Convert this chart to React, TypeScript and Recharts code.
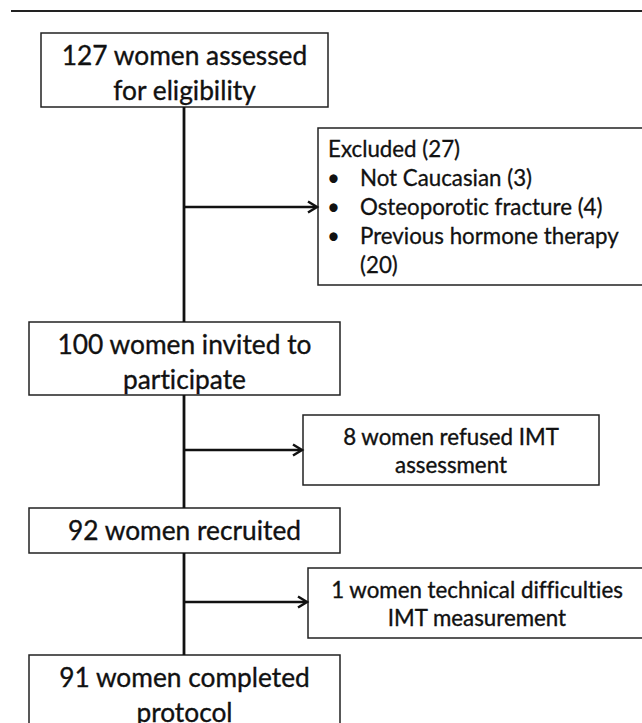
import { ComposedChart, XAxis, YAxis, ReferenceArea, ReferenceLine, Scatter } from 'recharts';

// flow diagram texts, in the order they appear
const mainSteps = [
  ['127 women assessed', 'for eligibility'],
  ['100 women invited to', 'participate'],
  ['92 women recruited'],
  ['91 women completed', 'protocol'],
];
const excludedTitle = 'Excluded (27)';
const excludedReasons = [
  ['Not Caucasian (3)'],
  ['Osteoporotic fracture (4)'],
  ['Previous hormone therapy', '(20)'],
];
const sideSteps = [
  ['8 women refused IMT', 'assessment'],
  ['1 women technical difficulties', 'IMT measurement'],
];

// layout in page pixels (x to the right, y downwards)
const W = 642;
const H = 723;
const spineX = 184;
const mainBoxes = [
  { x1: 41, x2: 328, y1: 33, y2: 107 },
  { x1: 29, x2: 340, y1: 322, y2: 395 },
  { x1: 29, x2: 340, y1: 508, y2: 553 },
  { x1: 29, x2: 340, y1: 655, y2: 745 },
];
const excludedBox = { x1: 318, x2: 665, y1: 128, y2: 285 };
const sideBoxes = [
  { x1: 303, x2: 599, y1: 415, y2: 485 },
  { x1: 308, x2: 646, y1: 568, y2: 638 },
];
const arrowYs = [207, 450, 602];
const arrowEnds = [excludedBox.x1, sideBoxes[0].x1, sideBoxes[1].x1];

const FONT = 'Lato, "Open Sans", sans-serif';
const INK = '#111';
const noLig = { fontVariantLigatures: 'none' } as const;

function CenteredText(props: any) {
  const { viewBox, lines, size, lineH, top } = props;
  const { x, y, width } = viewBox;
  return (
    <text
      x={x + width / 2}
      y={y + top}
      textAnchor="middle"
      fontFamily={FONT}
      fontSize={size}
      fill={INK}
      stroke={INK}
      strokeWidth={0.35}
      style={noLig}
    >
      {lines.map((l: string, i: number) => (
        <tspan key={i} x={x + width / 2} y={y + top + i * lineH}>
          {l}
        </tspan>
      ))}
    </text>
  );
}

function ExcludedText(props: any) {
  const { viewBox } = props;
  const { x, y } = viewBox;
  const lineH = 29;
  const fs = 22.3;
  let row = 1;
  const rows: any[] = [];
  excludedReasons.forEach((item, i) => {
    item.forEach((l, j) => {
      const ty = y + 29 + row * lineH;
      if (j === 0)
        rows.push(
          <text key={`b${i}`} x={x + 9} y={ty} fontFamily={FONT} fontSize={fs} fill={INK}>
            •
          </text>
        );
      rows.push(
        <text key={`t${i}-${j}`} x={x + 42} y={ty} fontFamily={FONT} fontSize={fs} fill={INK} stroke={INK} strokeWidth={0.3} style={noLig}>
          {l}
        </text>
      );
      row++;
    });
  });
  return (
    <g>
      <text x={x + 10} y={y + 29} fontFamily={FONT} fontSize={fs} fill={INK} stroke={INK} strokeWidth={0.3} style={noLig}>
        {excludedTitle}
      </text>
      {rows}
    </g>
  );
}

function ArrowHead(props: any) {
  const { cx, cy } = props;
  return (
    <path
      d={`M${cx - 9},${cy - 5.5} L${cx},${cy} L${cx - 9},${cy + 5.5}`}
      fill="none"
      stroke={INK}
      strokeWidth={2.5}
      strokeLinejoin="miter"
    />
  );
}

const arrowTips = arrowYs.map((y, i) => ({ x: arrowEnds[i] - 1, y }));
const spineSegments = [
  [mainBoxes[0].y2, mainBoxes[1].y1],
  [mainBoxes[1].y2, mainBoxes[2].y1],
  [mainBoxes[2].y2, mainBoxes[3].y1],
];

export default function App() {
  return (
    <div style={{ position: 'absolute', left: 0, top: 0, width: W, height: H, background: '#fff', overflow: 'hidden' }}>
      <ComposedChart width={W} height={H} margin={{ top: 0, right: 0, bottom: 0, left: 0 }} data={arrowTips}>
        <XAxis type="number" dataKey="x" domain={[0, W]} hide allowDataOverflow />
        <YAxis type="number" dataKey="y" domain={[0, H]} reversed hide allowDataOverflow />

        <ReferenceLine segment={[{ x: 11, y: 11 }, { x: W, y: 11 }]} stroke="#222" strokeWidth={2} ifOverflow="visible" />

        {spineSegments.map(([a, b], i) => (
          <ReferenceLine
            key={`s${i}`}
            segment={[{ x: spineX, y: a }, { x: spineX, y: b }]}
            stroke={INK}
            strokeWidth={2.8}
            ifOverflow="visible"
          />
        ))}
        {arrowYs.map((y, i) => (
          <ReferenceLine
            key={`a${i}`}
            segment={[{ x: spineX, y }, { x: arrowEnds[i] - 2, y }]}
            stroke={INK}
            strokeWidth={2.5}
            ifOverflow="visible"
          />
        ))}

        {mainBoxes.map((b, i) => (
          <ReferenceArea
            key={`m${i}`}
            x1={b.x1}
            x2={b.x2}
            y1={b.y1}
            y2={b.y2}
            fill="#fff"
            fillOpacity={1}
            stroke="#222"
            strokeWidth={1.5}
            ifOverflow="visible"
            label={<CenteredText lines={mainSteps[i]} size={26.3} lineH={34.5} top={32} />}
          />
        ))}

        <ReferenceArea
          x1={excludedBox.x1}
          x2={excludedBox.x2}
          y1={excludedBox.y1}
          y2={excludedBox.y2}
          fill="#fff"
          fillOpacity={1}
          stroke="#222"
          strokeWidth={1.5}
          ifOverflow="visible"
          label={<ExcludedText />}
        />

        {sideBoxes.map((b, i) => (
          <ReferenceArea
            key={`sb${i}`}
            x1={b.x1}
            x2={b.x2}
            y1={b.y1}
            y2={b.y2}
            fill="#fff"
            fillOpacity={1}
            stroke="#222"
            strokeWidth={1.5}
            ifOverflow="visible"
            label={<CenteredText lines={sideSteps[i]} size={22.3} lineH={28} top={30} />}
          />
        ))}

        <Scatter dataKey="y" isAnimationActive={false} shape={<ArrowHead />} />
      </ComposedChart>
    </div>
  );
}
